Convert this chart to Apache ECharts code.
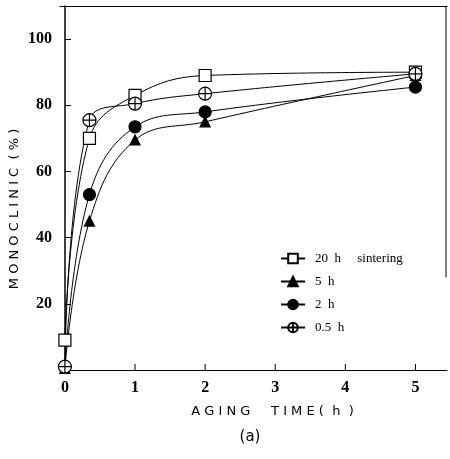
<!DOCTYPE html>
<html>
<head>
<meta charset="utf-8">
<script src="https://cdn.jsdelivr.net/npm/echarts@6/dist/echarts.min.js"></script>
<style>
html,body{margin:0;padding:0;background:#fff;}
#c{width:450px;height:459px;}
</style>
</head>
<body>
<div id="c"></div>
<script>
// Data
var agingTime = [0, 0.35, 1, 2, 5];
var sinter20h = [9, 70, 83, 89, 90];
var sinter5h  = [0.5, 45, 69.5, 75, 89];
var sinter2h  = [1, 53, 73.5, 78, 85.5];
var sinter05h = [1, 75.5, 80.5, 83.5, 89.5];
var seriesNames = ['20  h     sintering', '5  h', '2  h', '0.5  h'];
var yTicks = [20, 40, 60, 80, 100];
var xTicks = [0, 1, 2, 3, 4, 5];

function pairs(xs, ys){ return xs.map(function(x,i){ return [x, ys[i]]; }); }

var crossCircle = 'path://M0,-10 A10,10 0 1,1 0,10 A10,10 0 1,1 0,-10 Z M-10,0 L10,0 M0,-10 L0,10';

var chart = echarts.init(document.getElementById('c'));
var serifFont = 'Liberation Serif';
function mk(name, data, symbol, size, fill){
  return {
    name: name, type: 'line', data: pairs(agingTime, data),
    smooth: 0.4,
    symbol: symbol, symbolSize: size,
    lineStyle: {color: '#000', width: 1},
    itemStyle: {color: fill, borderColor: '#000', borderWidth: 1.2},
    z: 3
  };
}
var option = {
  animation: false,
  backgroundColor: '#fff',
  grid: {left: 60, right: 3, top: 6, bottom: 89, containLabel: false, outerBoundsMode: 'none'},
  legend: {
    orient: 'vertical', left: 275, top: 247, itemGap: 10,
    itemWidth: 24, itemHeight: 12,
    textStyle: {fontFamily: serifFont, fontSize: 13, color: '#000', padding: [0, 0, 0, 5]},
    data: seriesNames
  },
  xAxis: [{
    type: 'value', min: -0.07, max: 5.45,
    axisLine: {show: true, lineStyle: {color: '#000', width: 1.2}},
    axisTick: {show: false},
    splitLine: {show: false},
    axisLabel: {show: false},
    name: 'A G I N G     T I M E (  h  )', nameLocation: 'middle', nameGap: 35,
    nameTextStyle: {fontFamily: 'DejaVu Sans', fontSize: 13, color: '#000', padding: [0, 0, 0, 38]}
  }, {
    type: 'value', position: 'top', min: -0.07, max: 5.45,
    axisLine: {show: true, lineStyle: {color: '#000', width: 1.2}},
    axisTick: {show: false}, axisLabel: {show: false}, splitLine: {show: false}
  }],
  yAxis: {
    type: 'value', min: 0, max: 110, interval: 20,
    axisLine: {show: true, lineStyle: {color: '#000', width: 1.5}},
    axisTick: {show: true, inside: true, length: 6, lineStyle: {color: '#000'}},
    splitLine: {show: false},
    axisLabel: {
      color: '#000', fontFamily: serifFont, fontSize: 16, fontWeight: 'bold', margin: 8,
      formatter: function(v){ return yTicks.indexOf(v) >= 0 ? String(v) : ''; }
    }
  },
  series: [
    mk(seriesNames[0], sinter20h, 'rect', 12, '#fff'),
    mk(seriesNames[1], sinter5h, 'triangle', 10, '#000'),
    mk(seriesNames[2], sinter2h, 'circle', 12, '#000'),
    mk(seriesNames[3], sinter05h, crossCircle, 13, '#fff')
  ]
};
chart.setOption(option);

// x tick marks and labels drawn through the axis scale
var g = [];
var y0 = chart.convertToPixel({yAxisIndex: 0}, 0);
xTicks.forEach(function(t){
  var px = chart.convertToPixel({xAxisIndex: 0}, t);
  if (t > 0) g.push({type: 'line', shape: {x1: px, y1: y0, x2: px, y2: y0 - 6}, style: {stroke: '#000', lineWidth: 1}});
  g.push({type: 'text', x: px, y: y0 + 10, style: {text: String(t), fill: '#000', font: 'bold 16px "Liberation Serif"', align: 'center', verticalAlign: 'top'}});
});
// right border (partial, as in the reference)
var xr = chart.convertToPixel({xAxisIndex: 0}, 5.45);
var yt = chart.convertToPixel({yAxisIndex: 0}, 110);
var yb = chart.convertToPixel({yAxisIndex: 0}, 28);
g.push({type: 'line', shape: {x1: xr - 1, y1: yt, x2: xr - 1, y2: yb}, style: {stroke: '#000', lineWidth: 1}});
// y-axis title
g.push({type: 'text', x: 15, y: 209, rotation: Math.PI / 2, style: {text: 'M O N O C L I N I C  ( % )', fill: '#000', font: '13px "DejaVu Sans"', align: 'center', verticalAlign: 'middle'}});
// caption
g.push({type: 'text', x: 250, y: 430, style: {text: '(a)', fill: '#000', font: '15px "DejaVu Sans"', align: 'center', verticalAlign: 'top'}});
chart.setOption({graphic: g});
</script>
</body>
</html>
